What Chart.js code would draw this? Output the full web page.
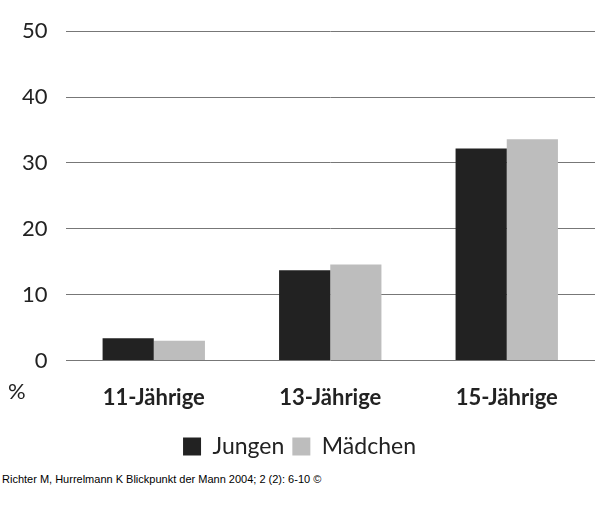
<!DOCTYPE html>
<html><head><meta charset="utf-8">
<script src="https://cdn.jsdelivr.net/npm/chart.js@4"></script>
<style>
body{margin:0;background:#fff;width:600px;height:531px;position:relative;overflow:hidden}
#wrap{position:absolute;left:0;top:0;width:600px;height:470px}
#foot{position:absolute;left:2px;top:473px;font:11px "Liberation Sans",Arial,sans-serif;color:#000}
</style></head><body>
<div id="wrap"><canvas id="c"></canvas></div>
<div id="foot">Richter M, Hurrelmann K Blickpunkt der Mann 2004; 2 (2): 6-10 ©</div>
<script>
// Data
const categories = ['11-Jährige', '13-Jährige', '15-Jährige'];
const jungen = [3.4, 13.7, 32.2];
const maedchen = [3.0, 14.6, 33.6];
const yTicks = [0, 10, 20, 30, 40, 50];

// "%" label below the y axis
const percentLabel = {
    id: 'percentLabel',
    afterDraw(chart) {
        const c = chart.ctx;
        c.save();
        c.font = '22px Lato, sans-serif';
        c.fillStyle = '#222';
        c.textAlign = 'left';
        c.textBaseline = 'middle';
        c.fillText('%', 8, 392);
        c.restore();
    }
};

new Chart(document.getElementById('c'), {
    type: 'bar',
    data: {
        labels: categories,
        datasets: [
            { label: 'Jungen', data: jungen, backgroundColor: '#222222' },
            { label: 'Mädchen', data: maedchen, backgroundColor: '#bdbdbd' }
        ]
    },
    options: {
        responsive: true,
        maintainAspectRatio: false,
        animation: false,
        layout: { padding: { left: 4, right: 5, top: 8, bottom: 2 } },
        datasets: { bar: { categoryPercentage: 0.58, barPercentage: 1 } },
        scales: {
            x: {
                grid: { display: false },
                border: { display: false },
                ticks: {
                    color: '#222',
                    padding: 16,
                    font: { size: 22, weight: 'bold', family: 'Lato, sans-serif' }
                }
            },
            y: {
                min: 0, max: 50,
                afterBuildTicks(axis) { axis.ticks = yTicks.map(v => ({ value: v })); },
                grid: { color: '#777', drawTicks: false },
                border: { display: false },
                ticks: {
                    color: '#222',
                    padding: 18,
                    font: { size: 22, family: 'Lato, sans-serif' }
                }
            }
        },
        plugins: {
            legend: {
                position: 'bottom',
                labels: {
                    color: '#222',
                    boxWidth: 18, boxHeight: 18,
                    padding: 8,
                    font: { size: 23, family: 'Lato, sans-serif' }
                }
            },
            tooltip: { enabled: false }
        }
    },
    plugins: [percentLabel]
});
</script>
</body></html>
